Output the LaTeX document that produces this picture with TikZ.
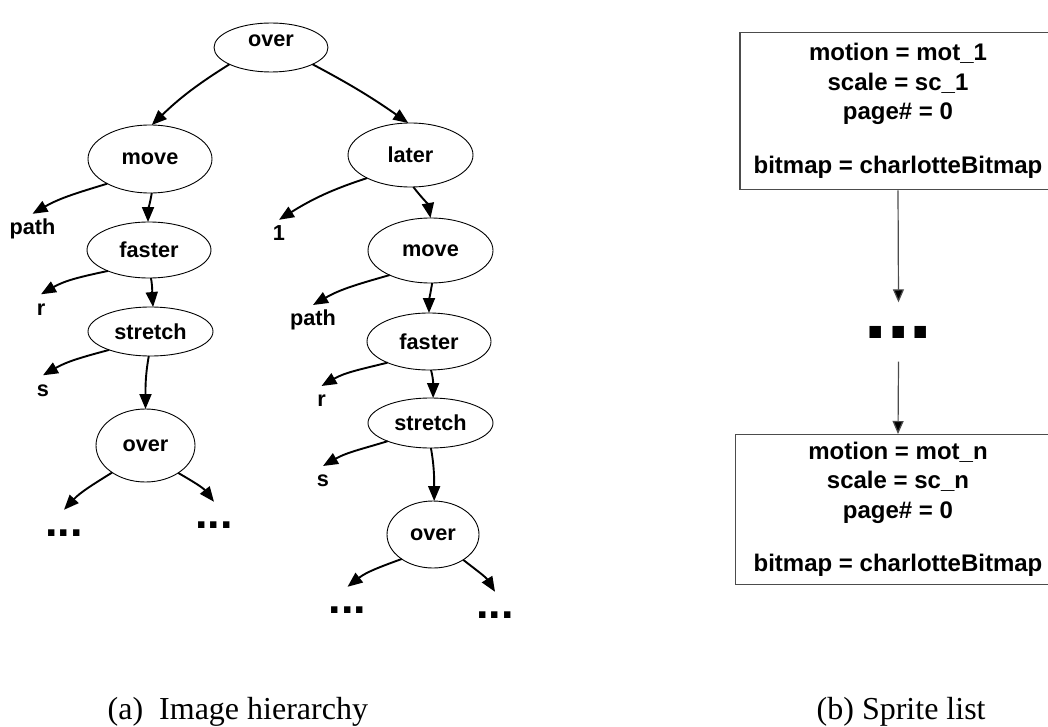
\documentclass[tikz,border=0pt]{standalone}
\usepackage{fontspec}
\setmainfont{Liberation Serif}
\setsansfont{Liberation Sans}
\usetikzlibrary{shapes.geometric,arrows.meta}

% type sizes (1pt = one unit of the drawing)
\newcommand\tfont{\sffamily\bfseries\fontsize{21.7pt}{26pt}\selectfont}
\newcommand\bxfont{\sffamily\bfseries\fontsize{24pt}{29.4pt}\selectfont}
\newcommand\dtfont{\sffamily\bfseries\fontsize{45pt}{50pt}\selectfont}
\newcommand\bigdtfont{\sffamily\bfseries\fontsize{81pt}{90pt}\selectfont}
\newcommand\capfont{\rmfamily\fontsize{32pt}{38pt}\selectfont}

\tikzset{
  opnode/.style={ellipse, draw, line width=0.9pt, inner sep=0pt, outer sep=0pt, font=\tfont},
  leaf/.style={anchor=base, inner xsep=0pt, inner ysep=5pt, text height=15.5pt, text depth=0pt, font=\tfont},
  more/.style={anchor=base, inner xsep=0pt, inner ysep=19.5pt, text height=6.5pt, text depth=0pt, font=\dtfont},
  link/.style={line width=1.9pt, -{Triangle[length=15pt,width=12pt]}},
  sprite/.style={rectangle, draw=black!70, line width=1.3pt, align=center, inner sep=0pt, font=\bxfont, anchor=north},
  chain/.style={draw=black!70, line width=1.2pt, -{Triangle[length=13pt,width=11pt,fill=black]}},
  caption/.style={anchor=base west, inner sep=0pt, font=\capfont}
}

\begin{document}
\begin{tikzpicture}[x=1pt,y=1pt]
\useasboundingbox (0,0) rectangle (1048,-727);

% ---------- (a) image hierarchy ----------
\node[opnode, minimum width=114pt, minimum height=49pt, text depth=14pt] (o1) at (271,-47.5) {over};
\node[opnode, minimum width=124pt, minimum height=68pt] (mv1) at (150,-159) {move};
\node[opnode, minimum width=125pt, minimum height=64pt] (lt)  at (410.5,-155) {later};
\node[opnode, minimum width=124pt, minimum height=56pt] (fs1) at (149,-250) {faster};
\node[opnode, minimum width=125pt, minimum height=65pt] (mv2) at (430.5,-250.5) {move};
\node[opnode, minimum width=125pt, minimum height=49pt] (st1) at (150.5,-331.5) {stretch};
\node[opnode, minimum width=124pt, minimum height=57pt] (fs2) at (429,-341.5) {faster};
\node[opnode, minimum width=125pt, minimum height=50pt] (st2) at (430.5,-423) {stretch};
\node[opnode, minimum width=99pt,  minimum height=73pt] (o2)  at (145.5,-445.5) {over};
\node[opnode, minimum width=92pt,  minimum height=67pt] (o3)  at (433,-534.5) {over};

\node[leaf] (p1)  at (32.5,-234.5) {path};
\node[leaf] (one) at (279,-240.5) {1};
\node[leaf] (r1)  at (41,-315) {r};
\node[leaf] (s1)  at (43,-396) {s};
\node[leaf] (p2)  at (313,-325.7) {path};
\node[leaf] (r2)  at (321.5,-406.7) {r};
\node[leaf] (s2)  at (323,-486.7) {s};

\node[more] (d1) at (64,-536) {...};
\node[more] (d2) at (214,-528) {...};
\node[more] (d3) at (347.5,-613) {...};
\node[more] (d4) at (495,-618) {...};

\draw[link] (o1.202)  to[out=212,in=44]  (mv1.87);
\draw[link] (o1.338)  to[out=332,in=145] (lt.94);
\draw[link] (mv1.210) to[out=197,in=30]  (p1.north);
\draw[link] (mv1.273) to[out=260,in=90]  (fs1.92);
\draw[link] (lt.208)  to[out=198,in=32]  (one.north);
\draw[link] (lt.275)  to[out=308,in=100] (mv2.90);
\draw[link] (fs1.207) to[out=192,in=30]  (r1.north);
\draw[link] (fs1.274) to[out=280,in=95]  (st1.84);
\draw[link] (mv2.211) to[out=196,in=30]  (p2.north);
\draw[link] (mv2.273) to[out=260,in=90]  (fs2.90);
\draw[link] (st1.204) to[out=195,in=30]  (s1.north);
\draw[link] (st1.266) to[out=260,in=90]  (o2.90);
\draw[link] (o2.219)  to[out=212,in=47]  (d1.north);
\draw[link] (o2.320)  to[out=330,in=128] (d2.north);
\draw[link] (fs2.207) to[out=194,in=30]  (r2.north);
\draw[link] (fs2.274) to[out=285,in=90]  (st2.84);
\draw[link] (st2.203) to[out=197,in=30]  (s2.north);
\draw[link] (st2.271) to[out=280,in=90]  (o3.88);
\draw[link] (o3.218)  to[out=200,in=38]  (d3.north);
\draw[link] (o3.320)  to[out=322,in=122] (d4.north);

% ---------- (b) sprite list ----------
\node[sprite, minimum width=316pt, minimum height=157pt] (b1) at (898,-32)
  {motion = mot\_1\\ scale = sc\_1\\ page\# = 0\\[25pt] bitmap = charlotteBitmap};
\node[anchor=base, inner xsep=0pt, inner ysep=23.5pt, text height=12pt, text depth=0pt, font=\bigdtfont]
  (rd) at (898.5,-338) {...};
\node[sprite, minimum width=325pt, minimum height=149.5pt] (b2) at (898,-434)
  {motion = mot\_n\\ scale = sc\_n\\ page\# = 0\\[24pt] bitmap = charlotteBitmap};
\draw[chain] (b1.south) -- (rd.north);
\draw[chain] (rd.south) -- (b2.north);

% ---------- captions ----------
\node[caption] (capa) at (107.5,-719.5) {(a)\ \ Image hierarchy};
\node[caption] (capb) at (816.5,-719.5) {(b) Sprite list};
\end{tikzpicture}
\end{document}
